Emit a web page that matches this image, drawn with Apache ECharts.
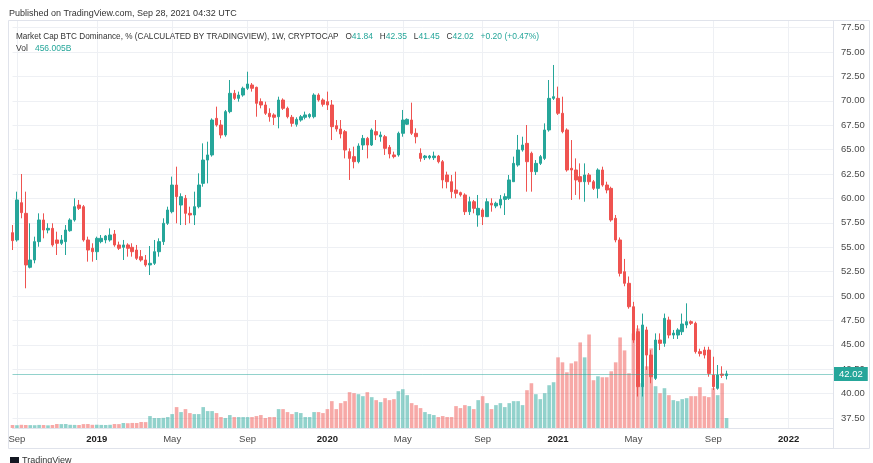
<!DOCTYPE html>
<html>
<head>
<meta charset="utf-8">
<title>Market Cap BTC Dominance</title>
<script src="https://cdn.jsdelivr.net/npm/echarts@6/dist/echarts.min.js"></script>
<style>
  html, body { margin: 0; padding: 0; background: #fff; }
  #chart { width: 873px; height: 463px; }
</style>
</head>
<body>
<div id="chart"></div>
<script>
// weekly bars, first one is the week of 2018-08-27
const firstWeek = Date.UTC(2018, 7, 27);
const emptyWeeks = 24; // blank space on the right of the last bar

const opens = [
  56.49, 55.74, 59.56, 58.47, 52.94, 53.69, 55.57, 57.79, 56.76, 56.93,
  55.74, 55.40, 55.57, 56.69, 57.79, 59.32, 59.15, 55.74, 54.89, 54.54,
  55.57, 55.74, 55.74, 56.35, 55.23, 54.99, 55.23, 54.99, 54.71, 54.03,
  53.69, 53.18, 53.35, 54.54, 55.57, 57.45, 58.64, 61.37, 59.32, 60.01,
  58.47, 58.30, 59.15, 61.54, 63.93, 64.45, 68.20, 67.52, 66.50, 68.89,
  70.77, 70.25, 70.59, 71.28, 71.62, 71.38, 69.91, 69.57, 68.72, 68.55,
  68.37, 70.08, 69.23, 68.31, 67.59, 68.03, 68.31, 68.37, 68.37, 70.59,
  70.08, 69.91, 69.57, 67.45, 67.11, 66.84, 64.79, 64.28, 63.76, 65.47,
  66.15, 65.47, 66.84, 66.32, 66.32, 65.23, 64.45, 64.45, 66.67, 67.60,
  68.03, 66.67, 64.62, 64.17, 64.17, 64.17, 64.34, 63.76, 62.40, 61.71,
  60.86, 60.59, 60.35, 58.64, 59.66, 58.30, 58.81, 58.13, 59.50, 59.22,
  59.32, 59.90, 60.01, 61.71, 63.42, 64.96, 65.64, 64.62, 62.74, 63.59,
  64.10, 67.01, 70.25, 70.25, 68.72, 67.01, 63.08, 62.91, 62.23, 61.71,
  62.40, 61.71, 61.03, 62.91, 61.37, 61.03, 57.96, 55.74, 52.49, 51.30,
  48.90, 46.34, 40.71, 46.52, 43.95, 41.56, 45.49, 45.15, 47.54, 46.00,
  46.00, 46.34, 47.03, 47.37, 47.20, 44.30, 44.46, 44.46, 41.90, 40.54,
  42.00, 41.84
];
const highs = [
  57.27, 60.69, 62.50, 60.69, 57.45, 56.08, 58.47, 58.47, 57.45, 57.45,
  56.59, 56.25, 57.27, 57.96, 60.01, 59.84, 59.32, 56.08, 55.40, 56.08,
  56.25, 56.25, 56.93, 56.76, 55.57, 55.74, 55.40, 55.40, 55.23, 54.71,
  54.20, 55.12, 55.74, 55.91, 57.96, 59.15, 62.23, 63.25, 60.52, 60.35,
  59.15, 60.69, 62.57, 65.64, 65.81, 68.20, 69.40, 68.03, 69.06, 72.13,
  71.11, 70.94, 71.45, 72.98, 71.82, 71.45, 70.25, 69.91, 69.23, 68.72,
  70.42, 70.25, 69.40, 68.55, 68.31, 68.55, 68.89, 68.72, 70.77, 70.77,
  70.25, 70.94, 70.08, 68.03, 68.03, 67.01, 65.13, 65.30, 65.64, 66.50,
  66.30, 67.18, 68.03, 66.84, 66.50, 65.47, 64.79, 66.84, 69.06, 68.20,
  69.81, 67.18, 65.13, 64.45, 64.45, 64.79, 64.45, 63.93, 62.74, 62.40,
  62.74, 60.69, 60.52, 60.18, 59.84, 60.35, 58.98, 60.01, 60.01, 59.66,
  60.35, 60.52, 62.40, 64.28, 66.50, 66.32, 67.52, 64.79, 63.93, 64.45,
  67.69, 72.13, 73.67, 71.45, 70.42, 67.18, 65.98, 64.10, 63.59, 63.59,
  62.60, 61.89, 63.08, 63.25, 61.71, 61.20, 58.30, 56.00, 53.80, 52.00,
  49.40, 47.00, 48.20, 46.85, 44.46, 46.17, 46.17, 48.20, 47.88, 46.52,
  46.70, 48.20, 49.25, 47.50, 47.37, 44.60, 44.80, 44.80, 43.78, 42.93,
  42.80, 42.35
];
const lows = [
  54.71, 55.57, 57.96, 50.79, 52.83, 53.35, 55.05, 55.91, 56.42, 55.05,
  54.20, 55.23, 54.20, 56.59, 57.62, 58.81, 55.57, 53.52, 53.52, 53.69,
  55.40, 55.40, 55.57, 55.05, 54.71, 53.69, 54.03, 54.03, 53.69, 53.52,
  53.00, 52.15, 53.18, 54.03, 55.23, 57.28, 58.47, 57.45, 57.27, 57.27,
  57.45, 57.27, 58.98, 61.20, 61.54, 64.28, 67.35, 66.15, 66.32, 68.72,
  70.08, 69.91, 70.42, 71.11, 70.94, 68.37, 69.23, 68.55, 67.86, 67.52,
  67.18, 69.06, 68.20, 67.35, 67.35, 67.86, 68.10, 68.20, 68.20, 69.91,
  69.40, 69.06, 65.98, 66.84, 66.15, 64.10, 61.89, 63.08, 63.59, 64.96,
  64.10, 65.37, 65.98, 65.81, 64.45, 64.10, 64.10, 64.28, 66.32, 67.52,
  66.50, 65.64, 63.76, 63.93, 64.00, 63.93, 63.59, 61.03, 61.03, 60.01,
  60.01, 60.18, 58.30, 58.30, 58.47, 57.10, 57.27, 58.13, 58.64, 59.00,
  58.98, 58.30, 59.84, 61.71, 63.25, 64.79, 60.69, 60.69, 62.40, 63.42,
  63.93, 66.84, 70.08, 68.55, 66.67, 62.74, 59.84, 60.35, 59.90, 59.66,
  61.40, 60.86, 60.01, 61.20, 60.52, 57.61, 55.50, 52.00, 51.00, 48.70,
  45.20, 39.70, 39.70, 42.42, 41.06, 41.40, 44.46, 44.80, 45.66, 45.60,
  45.60, 46.00, 46.70, 47.03, 44.10, 43.80, 43.60, 41.73, 40.37, 40.40,
  41.60, 41.45
];
const closes = [
  55.67, 59.84, 58.54, 53.18, 53.69, 55.57, 57.79, 56.76, 56.93, 55.23,
  55.40, 55.74, 56.76, 57.79, 59.15, 58.98, 55.74, 54.71, 54.54, 55.91,
  55.91, 56.15, 56.25, 55.23, 54.89, 55.23, 54.89, 54.54, 53.86, 53.69,
  53.18, 53.35, 54.54, 55.57, 57.45, 58.81, 61.37, 60.18, 60.18, 58.47,
  58.30, 59.15, 61.37, 63.93, 64.45, 68.03, 67.52, 66.50, 68.89, 70.77,
  70.25, 70.59, 71.28, 71.72, 71.28, 69.74, 69.57, 68.72, 68.37, 68.31,
  70.08, 69.23, 68.37, 67.69, 68.10, 68.37, 68.55, 68.60, 70.59, 70.08,
  69.64, 69.57, 67.35, 67.11, 66.60, 64.96, 64.10, 63.76, 65.37, 66.15,
  65.47, 67.01, 66.50, 66.50, 65.13, 64.55, 64.28, 66.67, 68.03, 68.10,
  66.67, 66.32, 64.10, 64.34, 64.34, 64.34, 63.76, 61.89, 61.71, 60.69,
  60.52, 60.35, 58.64, 59.66, 58.98, 58.98, 58.13, 59.66, 59.32, 59.50,
  59.90, 60.18, 61.89, 63.59, 64.96, 65.47, 63.76, 62.74, 63.59, 64.28,
  67.01, 70.25, 70.42, 68.72, 66.84, 62.91, 62.91, 61.89, 61.71, 62.40,
  61.71, 61.03, 62.91, 61.37, 60.86, 57.79, 55.74, 52.32, 51.30, 48.90,
  45.49, 40.71, 47.03, 43.95, 41.73, 45.49, 45.15, 47.71, 46.00, 46.20,
  46.52, 47.13, 47.37, 47.20, 44.30, 44.10, 43.95, 42.07, 40.71, 41.90,
  41.87, 42.02
];
// volume, billions
const volumes = [
  137, 128, 146, 137, 132, 128, 141, 137, 123, 137,
  182, 178, 182, 146, 141, 137, 178, 182, 146, 150,
  141, 137, 146, 182, 178, 228, 219, 232, 228, 274,
  270, 547, 456, 456, 465, 502, 638, 958, 730, 866,
  684, 638, 638, 958, 775, 775, 684, 502, 456, 593,
  502, 502, 502, 502, 502, 547, 593, 456, 502, 502,
  866, 866, 730, 638, 730, 684, 502, 502, 730, 730,
  684, 866, 1231, 866, 1140, 1231, 1642, 1596, 1550, 1459,
  1642, 1414, 1277, 1186, 1368, 1277, 1322, 1687, 1778, 1505,
  1140, 1049, 912, 730, 638, 593, 502, 547, 502, 502,
  1003, 912, 1049, 1003, 866, 1277, 1459, 1140, 866, 1049,
  1140, 958, 1140, 1231, 1231, 1049, 1733, 2052, 1550, 1322,
  1596, 1961, 2098, 3238, 3010, 2554, 2964, 3055, 3922, 3238,
  4286, 2189, 2371, 2326, 2326, 2599, 3010, 4150, 3557, 2508,
  4332, 4560, 2052, 2827, 3648, 1915, 1596, 1824, 1505, 1277,
  1231, 1322, 1368, 1459, 1459, 1870, 1459, 1414, 1824, 1505,
  2052, 456.005
];

const yearMonth = 1, markMonths = { 5: 'May', 9: 'Sep' };
const priceTicks = { min: 37.5, max: 80, step: 2.5 };

const upColor = '#26a69a', downColor = '#ef5350';
const upVol = 'rgba(38,166,154,0.5)', downVol = 'rgba(239,83,80,0.5)';

const weeks = [];
for (let i = 0; i < opens.length + emptyWeeks; i++) {
  weeks.push(new Date(firstWeek + i * 7 * 86400000).toISOString().slice(0, 10));
}

function markLabel(value) {
  const p = value.split('-').map(Number);
  if (p[2] > 7) return null;
  if (p[1] === yearMonth) return '{b|' + p[0] + '}';
  return markMonths[p[1]] || null;
}

const candles = opens.map((o, i) => [o, closes[i], lows[i], highs[i]]);
const volBars = volumes.map((v, i) => ({
  value: v,
  itemStyle: { color: closes[i] >= opens[i] ? upVol : downVol }
}));
const last = closes[closes.length - 1];

const font = 'Liberation Sans, Arial, sans-serif';
const chart = echarts.init(document.getElementById('chart'));

chart.setOption({
  animation: false,
  backgroundColor: '#fff',
  textStyle: { fontFamily: font },
  grid: [
    { left: 12.5, right: 40, top: 3.2, bottom: 45 },
    { left: 12.5, right: 40, top: 20, bottom: 35 }
  ],
  xAxis: [
    {
      type: 'category', gridIndex: 0, data: weeks, boundaryGap: false,
      axisLine: { show: false }, axisTick: { show: false },
      axisLabel: { show: false }, splitLine: { show: false }
    },
    {
      type: 'category', gridIndex: 1, data: weeks, boundaryGap: false,
      axisLine: { lineStyle: { color: '#e0e3eb' } },
      axisTick: { show: false },
      axisLabel: {
        interval: (i, v) => markLabel(v) !== null,
        formatter: v => markLabel(v) || '',
        color: '#4a4a4a', fontSize: 9.5, margin: 6,
        rich: { b: { fontWeight: 'bold', color: '#222', fontSize: 9.5 } }
      },
      splitLine: {
        show: true,
        interval: (i, v) => markLabel(v) !== null,
        lineStyle: { color: '#eef0f4' }
      }
    }
  ],
  yAxis: [
    {
      type: 'value', gridIndex: 0, position: 'right',
      min: priceTicks.min, max: priceTicks.max, interval: priceTicks.step,
      axisLine: { show: false }, axisTick: { show: false },
      axisLabel: {
        formatter: v => (v >= priceTicks.max ? '' : v.toFixed(2)),
        color: '#4a4a4a', fontSize: 9.5, margin: 8
      },
      splitLine: { lineStyle: { color: '#eef0f4' } }
    },
    {
      type: 'value', gridIndex: 1, min: 0, max: 18700, show: false,
      splitLine: { show: false }
    }
  ],
  series: [
    {
      name: 'Vol', type: 'bar', xAxisIndex: 1, yAxisIndex: 1,
      data: volBars, barWidth: 3.6, z: 1
    },
    {
      name: 'BTC.D', type: 'candlestick', xAxisIndex: 0, yAxisIndex: 0,
      data: candles, barWidth: 3, z: 3,
      itemStyle: {
        color: upColor, color0: downColor,
        borderColor: upColor, borderColor0: downColor, borderWidth: 1
      },
      markLine: {
        silent: true, symbol: ['none', 'none'],
        data: [{ yAxis: last }],
        lineStyle: { color: 'rgba(38,166,154,0.5)', width: 1, type: 'solid' },
        label: {
          show: true, position: 'end', distance: 1,
          formatter: last.toFixed(2),
          color: '#fff', backgroundColor: upColor,
          padding: [2, 5, 2, 5], fontSize: 9.5
        }
      }
    }
  ],
  graphic: [
    { type: 'rect', z: 50, shape: { x: 0, y: 0, width: 873, height: 21 }, style: { fill: '#fff' } },
    { type: 'rect', z: 50, shape: { x: 0, y: 448.5, width: 873, height: 15 }, style: { fill: '#fff' } },
    { type: 'rect', z: 51, shape: { x: 8.5, y: 20.5, width: 861, height: 428 }, style: { fill: 'none', stroke: '#e0e3eb' } },
    { type: 'line', z: 51, shape: { x1: 833.5, y1: 20.5, x2: 833.5, y2: 448.5 }, style: { stroke: '#e0e3eb' } },
    {
      type: 'text', z: 52, left: 9, top: 9,
      style: { text: 'Published on TradingView.com, Sep 28, 2021 04:32 UTC', fill: '#333', font: '9px ' + font }
    },
    {
      type: 'text', z: 52, left: 16, top: 32,
      style: {
        text: '{n|Market Cap BTC Dominance, % (CALCULATED BY TRADINGVIEW), 1W, CRYPTOCAP}   {n|O}{v|41.84}   {n|H}{v|42.35}   {n|L}{v|41.45}   {n|C}{v|42.02}   {v|+0.20 (+0.47%)}',
        font: '8.2px ' + font,
        rich: { n: { fill: '#333', font: '8.2px ' + font }, v: { fill: upColor, font: '8.5px ' + font } }
      }
    },
    {
      type: 'text', z: 52, left: 16, top: 44,
      style: {
        text: '{n|Vol}   {v|456.005B}',
        font: '8.5px ' + font,
        rich: { n: { fill: '#333', font: '8.5px ' + font }, v: { fill: upColor, font: '8.5px ' + font } }
      }
    },
    { type: 'rect', z: 52, shape: { x: 10, y: 457, width: 9, height: 6 }, style: { fill: '#131722' } },
    {
      type: 'text', z: 52, left: 22, top: 456,
      style: { text: 'TradingView', fill: '#333', font: '9px ' + font }
    }
  ]
});
</script>
</body>
</html>
